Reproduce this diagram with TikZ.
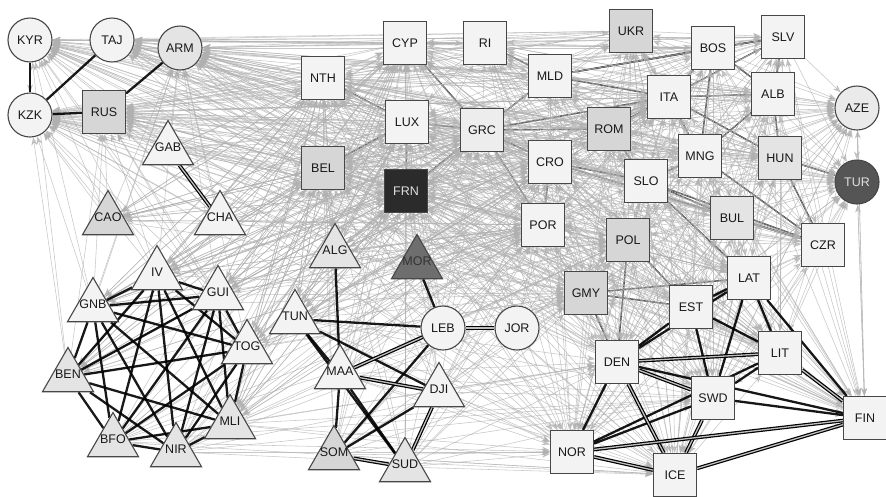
\documentclass[tikz,border=0pt]{standalone}
\usepackage{fontspec}
\setmainfont{Liberation Sans}
\usetikzlibrary{arrows.meta,shapes.geometric}
\pgfdeclarelayer{darklayer}
\pgfdeclarelayer{graylayer}
\pgfdeclarelayer{blacklayer}
\pgfsetlayers{darklayer,graylayer,blacklayer,main}
\definecolor{nodelight}{HTML}{F3F3F3}
\definecolor{nodemid}{HTML}{D6D6D6}
\definecolor{nodepale}{HTML}{E4E4E4}
\definecolor{nodeborder}{HTML}{474747}
\definecolor{grayedgecol}{HTML}{B0B0B0}
\definecolor{frnfill}{HTML}{2B2B2B}
\definecolor{turfill}{HTML}{555555}
\definecolor{morfill}{HTML}{6E6E6E}
\newcommand{\trilabel}[1]{\smash{\makebox[0pt]{\raisebox{-1pt}{#1}}}}
\tikzset{
  nodebase/.style={draw=nodeborder, line width=1.1pt, fill=nodelight, font=\fontsize{12.5}{14}\selectfont, text=black!90, inner sep=0pt},
  sqnode/.style={nodebase, rectangle, minimum width=43pt, minimum height=43pt},
  circnode/.style={nodebase, circle, minimum size=44pt},
  trinode/.style={nodebase, regular polygon, regular polygon sides=3, minimum size=59pt},
  fillmid/.style={fill=nodemid},
  fillpale/.style={fill=nodepale},
  grayarr/.style={draw=grayedgecol, line width=0.55pt, opacity=0.7, -{Stealth[length=8pt,width=6pt]}},
  blackedge/.style={draw=black, line width=2.3pt, opacity=0.9},
  darkedge/.style={draw=black!80, line width=1.4pt},
  dbledge/.style={draw=black, line width=1.2pt, double=white!75!black, double distance=1.3pt},
}
\def\Elist{CYP,RI,NTH,MLD,LUX,GRC,BEL,FRN,CRO,POR,UKR,SLV,BOS,ITA,ALB,ROM,MNG,HUN,SLO,BUL,POL,CZR,GMY,LAT,EST,DEN,LIT,SWD,FIN,NOR,ICE}
\def\Alist{GAB,CAO,CHA,IV,GNB,GUI,TOG,BEN,MLI,BFO,NIR,TUN,ALG,MOR,MAA,DJI,SOM,SUD,LEB,JOR}
\def\WAlist{IV,GNB,GUI,TOG,BEN,MLI,BFO,NIR}
\begin{document}
\begin{tikzpicture}[x=1pt,y=-1pt]
\useasboundingbox (0,0) rectangle (886,496);
\begin{pgfonlayer}{darklayer}
\fill[white] (0,0) rectangle (886,496);
\end{pgfonlayer}
% circles
\node[circnode] (KYR) at (30,40) {KYR};
\node[circnode] (TAJ) at (112,40) {TAJ};
\node[circnode,fill=nodepale] (ARM) at (180,48) {ARM};
\node[circnode] (KZK) at (30,115) {KZK};
\node[circnode,fill=nodepale!60!nodelight] (AZE) at (857,108) {AZE};
\node[circnode,fill=turfill,text=white!88!black] (TUR) at (857,182) {TUR};
\node[circnode] (LEB) at (443,328) {LEB};
\node[circnode] (JOR) at (517,328) {JOR};
% squares
\node[sqnode,fillmid] (RUS) at (104,112) {RUS};
\node[sqnode] (CYP) at (405,43) {CYP};
\node[sqnode] (RI) at (485,43) {RI};
\node[sqnode] (NTH) at (323,78) {NTH};
\node[sqnode] (MLD) at (550,76) {MLD};
\node[sqnode] (LUX) at (407,122) {LUX};
\node[sqnode,fill=nodelight!60!nodepale] (GRC) at (482,130) {GRC};
\node[sqnode,fillmid] (BEL) at (323,168) {BEL};
\node[sqnode,fill=frnfill,text=white!88!black] (FRN) at (406,191) {FRN};
\node[sqnode] (CRO) at (550,162) {CRO};
\node[sqnode] (POR) at (543,225) {POR};
\node[sqnode,fillmid] (UKR) at (631,31) {UKR};
\node[sqnode] (SLV) at (783,37) {SLV};
\node[sqnode] (BOS) at (713,48) {BOS};
\node[sqnode] (ITA) at (669,97) {ITA};
\node[sqnode] (ALB) at (773,94) {ALB};
\node[sqnode,fillmid] (ROM) at (609,129) {ROM};
\node[sqnode] (MNG) at (700,156) {MNG};
\node[sqnode,fillpale] (HUN) at (780,158) {HUN};
\node[sqnode] (SLO) at (646,181) {SLO};
\node[sqnode,fillpale] (BUL) at (732,218) {BUL};
\node[sqnode,fillmid] (POL) at (628,240) {POL};
\node[sqnode] (CZR) at (823,245) {CZR};
\node[sqnode,fillmid] (GMY) at (586,293) {GMY};
\node[sqnode] (LAT) at (749,278) {LAT};
\node[sqnode] (EST) at (691,307) {EST};
\node[sqnode] (DEN) at (617,362) {DEN};
\node[sqnode] (LIT) at (780,353) {LIT};
\node[sqnode] (SWD) at (713,398) {SWD};
\node[sqnode] (FIN) at (865,418) {FIN};
\node[sqnode] (NOR) at (572,452) {NOR};
\node[sqnode] (ICE) at (675,475) {ICE};
% triangles
\node[trinode] (GAB) at (168,150) {\trilabel{GAB}};
\node[trinode,fillmid] (CAO) at (108,220) {\trilabel{CAO}};
\node[trinode] (CHA) at (220,220) {\trilabel{CHA}};
\node[trinode] (IV) at (157,275) {\trilabel{IV}};
\node[trinode] (GNB) at (93,307) {\trilabel{GNB}};
\node[trinode] (GUI) at (218,295) {\trilabel{GUI}};
\node[trinode] (TOG) at (247,349) {\trilabel{TOG}};
\node[trinode,fillpale] (BEN) at (68,377) {\trilabel{BEN}};
\node[trinode,fillpale] (MLI) at (230,424) {\trilabel{MLI}};
\node[trinode,fillpale] (BFO) at (113,442) {\trilabel{BFO}};
\node[trinode,fillpale] (NIR) at (176,452) {\trilabel{NIR}};
\node[trinode] (TUN) at (295,319) {\trilabel{TUN}};
\node[trinode,fillpale] (ALG) at (335,253) {\trilabel{ALG}};
\node[trinode,fill=morfill,text=black!80] (MOR) at (417,264) {\trilabel{MOR}};
\node[trinode] (MAA) at (340,374) {\trilabel{MAA}};
\node[trinode] (DJI) at (439,392) {\trilabel{DJI}};
\node[trinode,fillmid] (SOM) at (334,455) {\trilabel{SOM}};
\node[trinode,fillpale] (SUD) at (405,467) {\trilabel{SUD}};
% gray arrows
\begin{pgfonlayer}{graylayer}
\foreach \s in \Elist {\foreach \t in {KYR,TAJ,ARM,KZK,RUS,AZE,TUR} {\draw[grayarr] (\s) -- (\t);}}
\foreach \s [count=\i] in \Elist {\foreach \t [count=\j] in \Elist {%
  \ifnum\j>\i
    \ifodd\numexpr\i+\j\relax \draw[grayarr] (\s) -- (\t); \else \draw[grayarr] (\t) -- (\s); \fi
  \fi}}
\foreach \s in \Alist {\foreach \t in {FRN,BEL,LUX,NTH,CYP,GRC,ITA,POR,CRO,GMY,POL} {\draw[grayarr] (\s) -- (\t);}}
\foreach \s in {SOM,SUD,DJI,MAA,TUN,MLI,NIR,BFO} {\foreach \t in {NOR,ICE,DEN,SWD} {\draw[grayarr] (\s) -- (\t);}}
\foreach \s in {GAB,CAO,CHA,IV,GNB,BEN,TOG,GUI} {\foreach \t in {RUS,KZK,ARM,KYR} {\draw[grayarr] (\s) -- (\t);}}
\foreach \s in {FRN,BEL,LUX,GRC,ITA,POR,NTH,CYP} {\foreach \t in {CAO,BEN,GNB,IV,GUI,TOG,MLI,TUN,ALG} {\draw[grayarr] (\s) -- (\t);}}
\draw[grayarr] (KYR) -- (KZK);
\draw[grayarr] (AZE) -- (FIN);
\draw[grayarr] (TUR) -- (FIN);
\draw[grayarr] (AZE) -- (TUR);
\end{pgfonlayer}
% dark Europe edges
\begin{pgfonlayer}{darklayer}
\foreach \a/\b in {NTH/LUX,BEL/LUX,LUX/FRN,LUX/GRC,FRN/GRC,CYP/GRC,RI/MLD,GRC/POR,GRC/MLD,GRC/CRO,GRC/ITA,GRC/ROM,CRO/POR,CRO/SLO,MLD/BOS,MLD/ITA,MLD/SLV,ITA/BOS,ITA/SLV,ITA/ALB,ITA/ROM,ITA/MNG,ITA/HUN,BOS/SLV,BOS/ALB,BOS/MNG,SLV/ALB,ALB/HUN,ALB/MNG,HUN/TUR,HUN/CZR,MNG/SLO,MNG/CZR,SLO/BUL,SLO/CZR,SLO/LAT,BUL/CZR,ROM/SLO,POL/DEN,POL/EST,GMY/DEN,GMY/EST,GMY/LAT,CRO/CZR}
  {\draw[darkedge] (\a) -- (\b);}
\end{pgfonlayer}
% black edges
\begin{pgfonlayer}{blacklayer}
\draw[blackedge] (KYR) -- (KZK);
\draw[blackedge] (TAJ) -- (KZK);
\draw[blackedge] (ARM) -- (RUS);
\draw[blackedge] (KZK) -- (RUS);
\draw[dbledge] (GAB) -- (CHA);
\foreach \s [count=\i] in \WAlist {\foreach \t [count=\j] in \WAlist {%
  \ifnum\j>\i \draw[blackedge] (\s) -- (\t); \fi}}
\foreach \a/\b in {ALG/MAA,TUN/LEB,TUN/MAA,TUN/DJI,TUN/SUD,MOR/LEB,LEB/SOM,MAA/SOM,MAA/SUD,SOM/DJI}
  {\draw[blackedge] (\a) -- (\b);}
\foreach \a/\b in {LEB/JOR,LEB/MAA,MAA/DJI,SOM/SUD,DJI/SUD}
  {\draw[dbledge] (\a) -- (\b);}
\foreach \a/\b in {DEN/EST,DEN/LAT,DEN/NOR,DEN/FIN,EST/LAT,EST/SWD,EST/LIT,LAT/LIT,LAT/SWD,LAT/FIN,LIT/SWD,LIT/NOR,SWD/FIN,SWD/NOR}
  {\draw[blackedge] (\a) -- (\b);}
\foreach \a/\b in {DEN/LIT,DEN/SWD,DEN/ICE,LIT/FIN,SWD/ICE,NOR/FIN,NOR/ICE,ICE/FIN}
  {\draw[dbledge] (\a) -- (\b);}
\end{pgfonlayer}
\end{tikzpicture}
\end{document}
